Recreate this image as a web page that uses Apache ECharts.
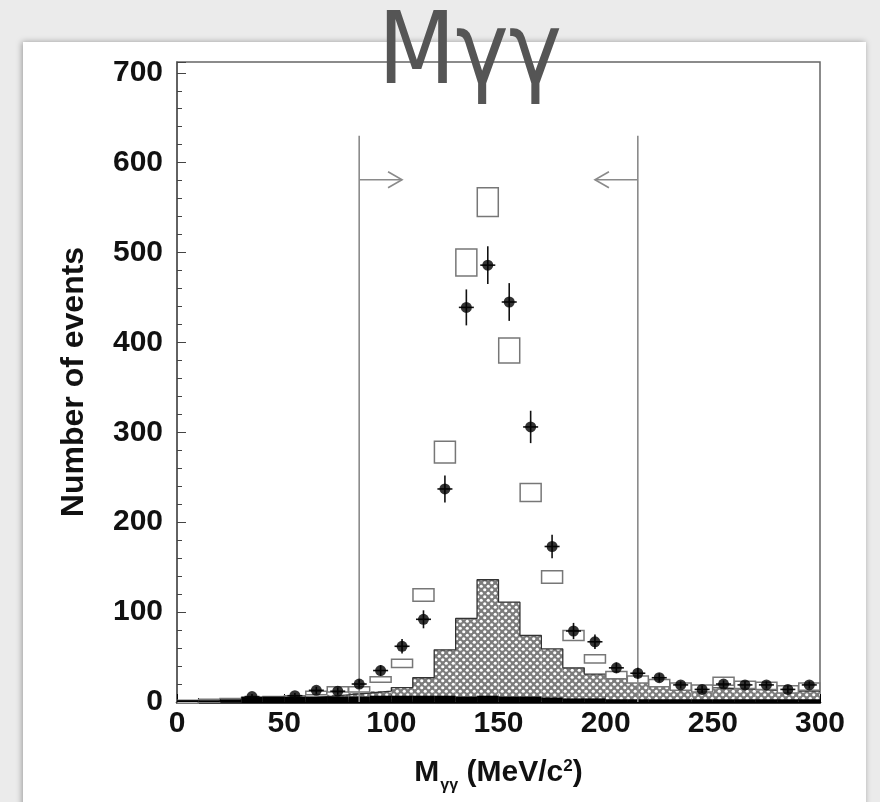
<!DOCTYPE html>
<html>
<head>
<meta charset="utf-8">
<script src="https://cdn.jsdelivr.net/npm/echarts@6/dist/echarts.min.js"></script>
<style>
html,body{margin:0;padding:0;background:#ebebeb;}
#c{width:880px;height:802px;}
</style>
</head>
<body>
<div id="c"></div>
<script>
// ---- data ----
const binCenters = [5,15,25,35,45,55,65,75,85,95,105,115,125,135,145,155,165,175,185,195,205,215,225,235,245,255,265,275,285,295];
const binWidth = 10;
const dataCounts = [null,null,null,6,null,7,13,12,20,35,62,92,237,439,486,445,306,173,79,67,38,32,27,19,14,20,19,19,14,19];
const dataErrors = [null,null,null,3,null,3,4,4,5,6,8,10,15,20,21,21,18,13,9,8,6,6,5,4,4,4,4,4,4,4];
const mcCounts = [1,2,3,4,5,6,10,14,14,25,43,119,278,489,556,391,233,139,74,48,30,25,21,17,15,23,19,18,14,17];
const mcErrors = [1,1,1,1,1,1,2,3,3,3,4.5,7,12,15,16,14,10,7,5.5,4.5,4,4,4,4,4,4.5,4,4,4,4];
const hatchCounts = [1,1,1,2,3,4,6,8,10,12,16,27,58,93,136,111,74,59,38,31,28,24,21,18,16,15,14,13,12,12];
const blackCounts = [2,2,3,6,6,6,6,6,6,7,7,7,7,6,7,6,6,5,4,4,3,3,3,3,3,3,3,3,3,3];
const cutValues = [85, 215];
const cutDirections = [1, -1];
const cutTop = 630;
const arrowLevel = 581;
const arrowLength = 20;
const xErrHalf = 3.5;

// ---- pattern for the cross-hatched histogram ----
function makePattern(){
  const c = document.createElement('canvas');
  c.width = 7; c.height = 7;
  const g = c.getContext('2d');
  g.fillStyle = '#7c7c7c'; g.fillRect(0,0,7,7);
  g.fillStyle = '#ffffff';
  g.beginPath(); g.arc(1.75,1.75,1.6,0,Math.PI*2); g.fill();
  g.beginPath(); g.arc(5.25,5.25,1.6,0,Math.PI*2); g.fill();
  return c;
}
const hatchPattern = {image: makePattern(), repeat: 'repeat'};

function rectRenderer(style){
  return function(params, api){
    const c = api.value(0), v = api.value(1);
    const p0 = api.coord([c - binWidth/2, v]);
    const p1 = api.coord([c + binWidth/2, 0]);
    return {type:'rect', shape:{x:p0[0], y:p0[1], width:p1[0]-p0[0], height:p1[1]-p0[1]}, style: style};
  };
}

const hatchData = binCenters.map((c,i)=>[c, hatchCounts[i]]);
const blackData = binCenters.map((c,i)=>[c, blackCounts[i]]);
const outline = binCenters.map((c,i)=>[c - binWidth/2, hatchCounts[i]]);
outline.push([binCenters[binCenters.length-1] + binWidth/2, hatchCounts[hatchCounts.length-1]]);
const mcData = binCenters.map((c,i)=>[c, mcCounts[i], mcErrors[i]]);
const ptData = [];
binCenters.forEach((c,i)=>{ if(dataCounts[i] !== null) ptData.push([c, dataCounts[i], dataErrors[i]]); });
const cutData = cutValues.map((x,i)=>[x, cutDirections[i]]);

const chart = echarts.init(document.getElementById('c'), null, {renderer:'canvas'});
const FONT = '"Liberation Sans", Arial, Helvetica, sans-serif';

chart.setOption({
  animation: false,
  backgroundColor: 'transparent',
  graphic: [
    {type:'rect', z:-100, shape:{x:23, y:42, width:843, height:800},
     style:{fill:'#ffffff', shadowBlur:6, shadowColor:'rgba(0,0,0,0.35)', shadowOffsetX:-1, shadowOffsetY:0}},
    {type:'text', z:100, x:470, y:7,
     style:{text:'Mγγ', font:'100px "Liberation Sans Narrow", "DejaVu Sans Condensed", sans-serif', fill:'#555555', textAlign:'center', textVerticalAlign:'top'}}
  ],
  grid: {left:177, right:60, top:62, bottom:100, show:true, borderColor:'#666', borderWidth:1.5, backgroundColor:'transparent'},
  xAxis: {
    type:'value', min:0, max:300, interval:50,
    axisLine:{show:true, onZero:false, lineStyle:{color:'#000', width:2.5}},
    axisTick:{show:true, inside:true, length:8, lineStyle:{color:'#000'}},
    minorTick:{show:true, splitNumber:5, length:4, lineStyle:{color:'#000'}},
    splitLine:{show:false},
    axisLabel:{color:'#111', fontFamily:FONT, fontWeight:'bold', fontSize:30, margin:7},
    name:'{b|M}{s|γγ}{b| (MeV/c}{p|2}{b|)}',
    nameLocation:'middle', nameGap:56,
    nameTextStyle:{
      rich:{
        b:{fontFamily:FONT, fontWeight:'bold', fontSize:30, color:'#111', lineHeight:36, verticalAlign:'top'},
        s:{fontFamily:FONT, fontWeight:'bold', fontSize:16, color:'#111', lineHeight:16, verticalAlign:'bottom', padding:[0,0,0,1]},
        p:{fontFamily:FONT, fontWeight:'bold', fontSize:17, color:'#111', lineHeight:17, verticalAlign:'top'}
      }
    }
  },
  yAxis: {
    type:'value', min:0, max:712, interval:100,
    axisLine:{show:true, lineStyle:{color:'#555', width:1.5}},
    axisTick:{show:true, inside:true, length:9, lineStyle:{color:'#444'}},
    minorTick:{show:true, splitNumber:5, length:5, lineStyle:{color:'#444'}},
    splitLine:{show:false},
    axisLabel:{color:'#111', fontFamily:FONT, fontWeight:'bold', fontSize:30, margin:14, showMaxLabel:false,
      formatter: v => (v % 100 === 0 ? String(v) : '')},
    name:'Number of events', nameLocation:'middle', nameGap:87,
    nameTextStyle:{fontFamily:FONT, fontWeight:'bold', fontSize:32, color:'#111'}
  },
  series: [
    {type:'custom', name:'hatch', z:1, data:hatchData, renderItem: rectRenderer({fill: hatchPattern, stroke:null})},
    {type:'line', name:'outline', z:2, data:outline, step:'end', symbol:'none', lineStyle:{color:'#333', width:1.3}},
    {type:'custom', name:'mc', z:3, data:mcData, renderItem: function(params, api){
      const c = api.value(0), v = api.value(1), e = api.value(2);
      const p0 = api.coord([c - binWidth/2 + 0.1, v + e]);
      const p1 = api.coord([c + binWidth/2 - 0.1, v - e]);
      return {type:'rect', shape:{x:p0[0], y:p0[1], width:p1[0]-p0[0], height:Math.max(p1[1]-p0[1], 3)},
        style:{fill:'#ffffff', stroke:'#777', lineWidth:1.5}};
    }},
    {type:'custom', name:'black', z:4, data:blackData, renderItem: rectRenderer({fill:'#000', stroke:null})},
    {type:'custom', name:'cuts', z:4, data:cutData, renderItem: function(params, api){
      const x = api.value(0), d = api.value(1);
      const b = api.coord([x, 0]), t = api.coord([x, cutTop]);
      const a0 = api.coord([x, arrowLevel]);
      const a1 = api.coord([x + d*arrowLength, arrowLevel]);
      const st = {stroke:'#8a8a8a', lineWidth:1.6, fill:null};
      return {type:'group', children:[
        {type:'line', shape:{x1:b[0], y1:b[1], x2:t[0], y2:t[1]}, style:st},
        {type:'line', shape:{x1:a0[0], y1:a0[1], x2:a1[0], y2:a1[1]}, style:st},
        {type:'polyline', shape:{points:[[a1[0]-d*14, a1[1]-8],[a1[0], a1[1]],[a1[0]-d*14, a1[1]+8]]}, style:st}
      ]};
    }},
    {type:'custom', name:'errors', z:5, data:ptData, renderItem: function(params, api){
      const c = api.value(0), v = api.value(1), e = api.value(2);
      const top = api.coord([c, v + e]), bot = api.coord([c, v - e]);
      const l = api.coord([c - xErrHalf, v]), r = api.coord([c + xErrHalf, v]);
      const st = {stroke:'#111', lineWidth:1.6, fill:null};
      return {type:'group', children:[
        {type:'line', shape:{x1:top[0], y1:top[1], x2:bot[0], y2:bot[1]}, style:st},
        {type:'line', shape:{x1:l[0], y1:l[1], x2:r[0], y2:r[1]}, style:st}
      ]};
    }},
    {type:'scatter', name:'data', z:6, data:ptData.map(p=>[p[0], p[1]]), symbol:'circle', symbolSize:11,
     itemStyle:{color:'#000'}}
  ]
});
</script>
</body>
</html>
